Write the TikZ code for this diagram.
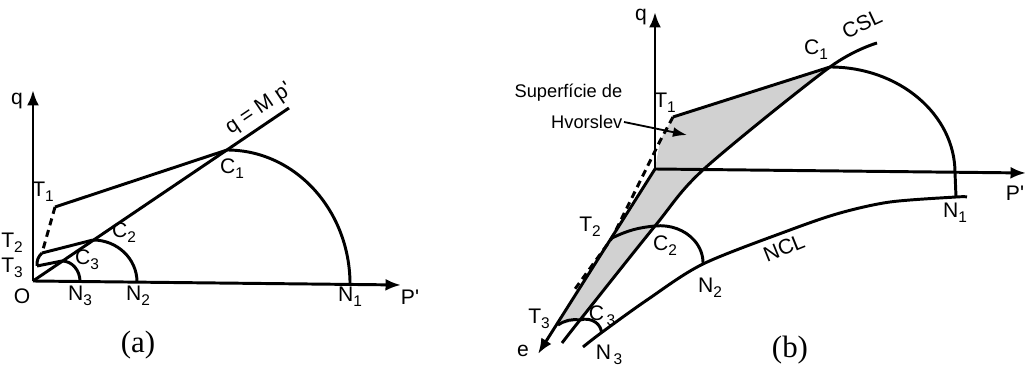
\documentclass[tikz,border=0pt]{standalone}
\usepackage{fontspec}
\setmainfont{Liberation Serif}
\newfontfamily\labfont{Liberation Sans}
\usetikzlibrary{arrows.meta}
\newcommand{\lsub}[1]{\raisebox{-0.45ex}{\fontsize{11}{13}\selectfont #1}}

\begin{document}
\begin{tikzpicture}[
  x=0.025cm, y=0.025cm,
  ln/.style={line width=2.1pt},
  ax/.style={line width=2.1pt, -{Latex[length=11pt,width=8.5pt]}},
  lbl/.style={font=\labfont\fontsize{15}{17}\selectfont, inner sep=1pt},
  txt/.style={font=\labfont\fontsize{13}{15}\selectfont, inner sep=1pt},
  captxt/.style={font=\fontsize{22}{26}\selectfont},
  hv/.style={fill=black!18}
]
\useasboundingbox (0,0) rectangle (1028,367);

% ---- (a)
\coordinate (aO) at (33,86);
\coordinate (aQ) at (33,277);
\coordinate (aP) at (401,82);
\coordinate (aM) at (289,259);
\coordinate (aC1) at (227,217);
\coordinate (aC2) at (93,127);
\coordinate (aC3) at (62,106);
\coordinate (aT1) at (55,160);
\coordinate (aT2) at (42,114);
\coordinate (aT3) at (37,101);

\draw[ax] (aO) -- (aQ);
\draw[ax] (aO) -- (aP);
\draw[ln] (aO) -- (aM);
\draw[ln] (aC1) arc[start angle=90, end angle=0, x radius=3.075cm, y radius=3.36cm];
\draw[ln] (aC2) arc[start angle=90, end angle=0, x radius=1.1cm, y radius=1.05cm];
\draw[ln] (aC3) arc[start angle=90, end angle=0, x radius=0.45cm, y radius=0.51cm];
\draw[ln] (aT1) -- (aC1);
\draw[ln] (aT2) -- (aC2);
\draw[ln] (aT3) -- (aC3);
\draw[ln, dash pattern=on 5pt off 3.5pt] (aT1) -- (aT2);
\draw[ln] (aT2) to[bend right=25] (aT3);

\node[lbl] (aq) at (17,266) {q};
\node[lbl] (ap) at (410,70) {P'};
\node[lbl] (ao) at (22,71) {O};
\node[lbl] (an3) at (80,71) {N\lsub{3}};
\node[lbl] (an2) at (138,71) {N\lsub{2}};
\node[lbl] (an1) at (350,70) {N\lsub{1}};
\node[lbl] (ac1) at (232,198) {C\lsub{1}};
\node[lbl] (ac2) at (124,134) {C\lsub{2}};
\node[lbl] (ac3) at (87,107) {C\lsub{3}};
\node[lbl] (at1) at (43,175) {T\lsub{1}};
\node[lbl] (at2) at (12,124) {T\lsub{2}};
\node[lbl] (at3) at (12,99) {T\lsub{3}};
\node[lbl, rotate=34] (aeq) at (259,258) {q = M p'};
\node[captxt] (capa) at (138,22) {(a)};

% ---- (b)
\coordinate (bK) at (655,198);
\coordinate (bQ) at (655,355);
\coordinate (bP) at (1026,194);
\coordinate (bE) at (538,13);
\coordinate (bT1) at (673,250);
\coordinate (bT2) at (612,129);
\coordinate (bT3) at (558,42);
\coordinate (bD) at (660,226);
\coordinate (bD2) at (575,78);
\coordinate (bC1) at (830,300);
\coordinate (bC2) at (655,141);
\coordinate (bC3) at (580,47);
\coordinate (bX) at (704,198);
\coordinate (bS0) at (562,24);
\coordinate (bS1) at (877,324);
\coordinate (bL0) at (583,20);
\coordinate (bN3) at (601,34);
\coordinate (bN2) at (703,103);
\coordinate (bN1) at (956,170);
\coordinate (bL1) at (967,170);
\coordinate (hvtip) at (687,232);

\fill[hv] (bT1) -- (bC1) -- plot[smooth] coordinates {(bC1) (bX) (bC2) (bC3)}
  -- (bT3) -- (bT2) -- (bK) -- (bD) -- cycle;

\draw[ax] (bK) -- (bQ);
\draw[ax] (bK) -- (bP);
\draw[ax] (bK) -- (bE);
\draw[ln] plot[smooth] coordinates {(bS0) (bC3) (bC2) (bX) (bC1) (bS1)};
\draw[ln] plot[smooth] coordinates {(bL0) (bN3) (647,67) (bN2) (790,137) (840,154) (890,165) (bN1) (bL1)};
\draw[ln] (bC1) arc[start angle=90, end angle=0, x radius=3.125cm, y radius=2.65cm] -- (bN1);
\draw[ln] (bC2) arc[start angle=97, end angle=0, x radius=1.07cm, y radius=0.93cm];
\draw[ln] (bC3) arc[start angle=110, end angle=0, x radius=0.4cm, y radius=0.35cm];
\draw[ln] (bT1) -- (bC1);
\draw[ln] (bT2) to[bend left=10] (bC2);
\draw[ln] (bT3) to[bend left=20] (bC3);
\draw[ln, dash pattern=on 5pt off 3.5pt] (bT1) -- (bD) -- (bT2) -- (bD2);

\node[lbl] (bq) at (641,350) {q};
\node[lbl] (bp) at (1015,174) {P'};
\node[lbl] (be) at (523,16) {e};
\node[lbl] (bt1) at (665,264) {T\lsub{1}};
\node[lbl] (bt2) at (590,140) {T\lsub{2}};
\node[lbl] (bt3) at (539,48) {T\lsub{3}};
\node[lbl] (bc1) at (816,317) {C\lsub{1}};
\node[lbl] (bc2) at (665,121) {C\lsub{2}};
\node[lbl] (bc3) at (602,51) {C\lsub{\,3}};
\node[lbl] (bn1) at (955,154) {N\lsub{1}};
\node[lbl] (bn2) at (710,79) {N\lsub{2}};
\node[lbl] (bn3) at (609,12) {N\lsub{\,3}};
\node[lbl, rotate=25] (bcsl) at (862,343) {CSL};
\node[lbl, rotate=22] (bncl) at (784,119) {NCL};
\node[txt, anchor=east] (sup) at (624,274) {Superfície de};
\node[txt, anchor=east] (hvor) at (624,245) {Hvorslev};
\draw[line width=1.3pt, -{Latex[length=10pt,width=7pt]}] (hvor.east) -- (hvtip);
\node[captxt] (capb) at (790,17) {(b)};
\end{tikzpicture}
\end{document}
